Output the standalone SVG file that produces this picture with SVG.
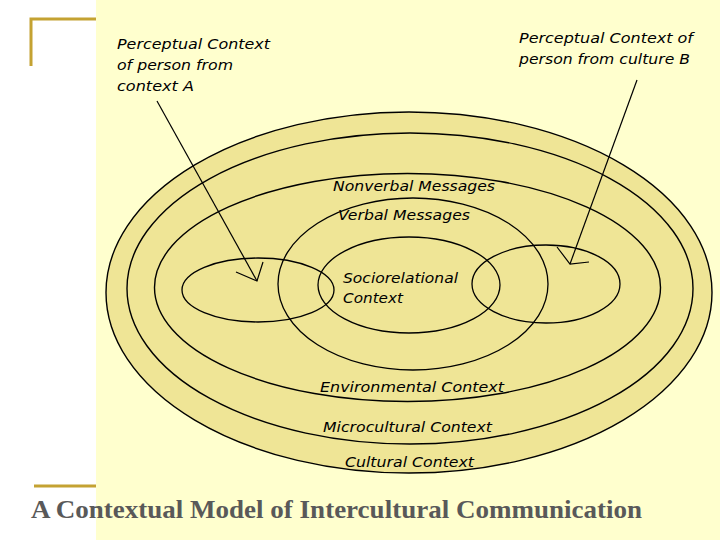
<svg xmlns="http://www.w3.org/2000/svg" width="720" height="540" viewBox="0 0 720 540">
<style>
.ring{fill:#EFE596;stroke:#000;stroke-width:1.4}
.inner{fill:none;stroke:#000;stroke-width:1.3}
.lbl{font-family:"DejaVu Sans","Liberation Sans",sans-serif;font-style:italic;font-size:14px;fill:#000}
.gold{stroke:#C4A232;stroke-width:3;fill:none}
.conn{fill:none;stroke:#000;stroke-width:1.2}
.title{font-family:"Liberation Serif","Times New Roman",serif;font-weight:bold;font-size:25px;fill:#595959}
</style>
<rect x="0" y="0" width="720" height="540" fill="#FFFFFF"/>
<rect x="96" y="0" width="624" height="540" fill="#FFFFCE"/>
<path class="gold" d="M31,66 V19 H96"/>
<path class="gold" d="M34,486 H96"/>

<g id="cultural">
<ellipse class="ring" cx="409" cy="292.5" rx="303" ry="180.5"/>
<text class="lbl" x="345" y="467" textLength="129" lengthAdjust="spacingAndGlyphs">Cultural Context</text>
</g>
<g id="microcultural">
<ellipse class="ring" cx="410" cy="288.5" rx="283" ry="155.5"/>
<text class="lbl" x="323" y="432" textLength="169" lengthAdjust="spacingAndGlyphs">Microcultural Context</text>
</g>
<g id="environmental">
<ellipse class="ring" cx="407.5" cy="287.5" rx="253" ry="114"/>
<text class="lbl" x="320" y="392" textLength="184" lengthAdjust="spacingAndGlyphs">Environmental Context</text>
</g>
<g id="nonverbal">
<text class="lbl" x="333" y="191" textLength="162" lengthAdjust="spacingAndGlyphs">Nonverbal Messages</text>
</g>
<g id="verbal">
<ellipse class="inner" cx="413" cy="284" rx="135" ry="86"/>
<text class="lbl" x="338" y="220" textLength="132" lengthAdjust="spacingAndGlyphs">Verbal Messages</text>
</g>
<g id="sociorelational">
<ellipse class="inner" cx="409" cy="285" rx="91" ry="48"/>
<text class="lbl" x="343" y="283" textLength="115" lengthAdjust="spacingAndGlyphs">Sociorelational</text>
<text class="lbl" x="343" y="303" textLength="60" lengthAdjust="spacingAndGlyphs">Context</text>
</g>
<g id="perceptualA">
<ellipse class="inner" cx="258" cy="290" rx="76" ry="32"/>
<text class="lbl" x="117" y="49" textLength="153" lengthAdjust="spacingAndGlyphs">Perceptual Context</text>
<text class="lbl" x="117" y="70" textLength="116" lengthAdjust="spacingAndGlyphs">of person from</text>
<text class="lbl" x="117" y="91" textLength="77" lengthAdjust="spacingAndGlyphs">context A</text>
</g>
<g id="perceptualB">
<ellipse class="inner" cx="546" cy="284" rx="74" ry="39"/>
<text class="lbl" x="519" y="43" textLength="174" lengthAdjust="spacingAndGlyphs">Perceptual Context of</text>
<text class="lbl" x="519" y="64" textLength="171" lengthAdjust="spacingAndGlyphs">person from culture B</text>
</g>

<g id="connectors">
<path class="conn" d="M157,101 L257,281"/>
<path class="conn" d="M236,272 L257,281 L263,262"/>
<path class="conn" d="M637,80 L570,264"/>
<path class="conn" d="M557,247 L570,264 L589,262"/>
</g>

<text class="title" x="31" y="518" textLength="611" lengthAdjust="spacingAndGlyphs">A Contextual Model of Intercultural Communication</text>
</svg>
